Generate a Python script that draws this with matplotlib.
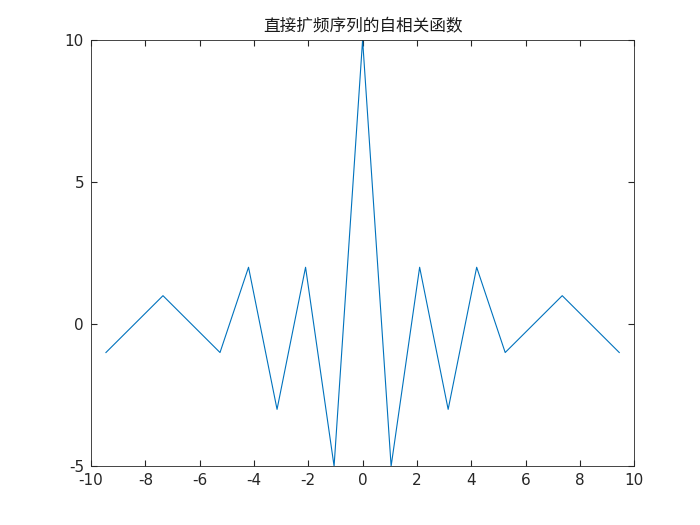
import matplotlib
matplotlib.use('Agg')
import matplotlib.pyplot as plt

# autocorrelation of a direct-sequence spreading code
lag = [-9.45, -7.35, -5.25, -4.2, -3.15, -2.1, -1.05, 0,
       1.05, 2.1, 3.15, 4.2, 5.25, 7.35, 9.45]
r = [-1, 1, -1, 2, -3, 2, -5, 10, -5, 2, -3, 2, -1, 1, -1]

plt.rcParams['font.family'] = ['DejaVu Sans', 'Noto Sans CJK SC']
plt.rcParams['axes.unicode_minus'] = False

fig = plt.figure(figsize=(7, 5.25), dpi=100)
ax = fig.add_axes([0.13, 0.112, 0.776, 0.812])
ax.plot(lag, r, color='#0072BD', linewidth=0.8)

ax.set_xlim(-10, 10)
ax.set_ylim(-5, 10)
ax.set_xticks(range(-10, 11, 2))
ax.set_yticks([-5, 0, 5, 10])
ax.tick_params(direction='in', top=True, right=True, labelsize=11, length=4,
               color='#262626', labelcolor='#262626', pad=5)
for s in ax.spines.values():
    s.set_linewidth(0.6)
    s.set_color('#262626')
ax.set_title('直接扩频序列的自相关函数', family=['Noto Sans CJK SC'], fontsize=12,
             color='#1a1a1a', pad=6)

fig.savefig('out.png')
